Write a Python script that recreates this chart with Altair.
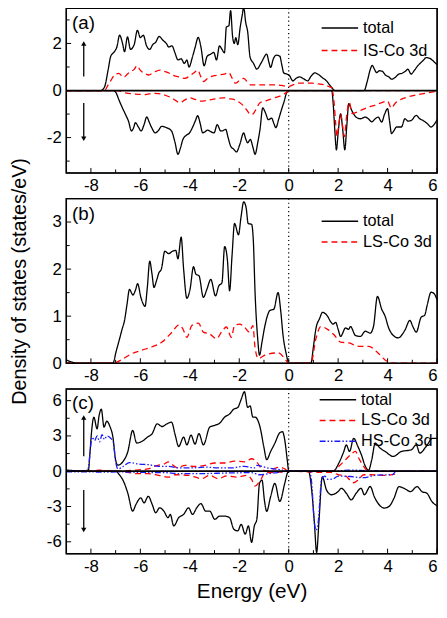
import altair as alt
import pandas as pd

FONT = "Liberation Sans"
W = 376
H = 167

X_MAJOR = [-8, -6, -4, -2, 0, 2, 4, 6]
X_MINOR = [-7, -5, -3, -1, 1, 3, 5]

# ---------------- panel (a) ----------------
A_TOTAL_UP = [(-9,0),(-7.6,0),(-7.45,0.15),(-7.3,0.9),(-7.2,1.45),(-7.05,1.65),(-6.95,1.85),(-6.84,2.35),(-6.72,2.0),(-6.64,1.65),(-6.52,2.28),(-6.4,1.75),(-6.25,1.95),(-6.12,2.56),(-6.0,2.25),(-5.88,2.35),(-5.75,1.9),(-5.62,1.75),(-5.5,1.95),(-5.38,2.05),(-5.24,2.3),(-5.1,2.15),(-4.95,2.0),(-4.85,1.85),(-4.72,1.9),(-4.6,1.6),(-4.48,1.3),(-4.35,1.35),(-4.22,1.15),(-4.12,1.3),(-4.03,1.0),(-3.9,1.4),(-3.78,1.85),(-3.66,2.26),(-3.55,1.85),(-3.42,1.05),(-3.3,1.45),(-3.15,1.55),(-3.03,1.62),(-2.92,1.3),(-2.8,1.9),(-2.7,1.75),(-2.6,1.6),(-2.52,2.7),(-2.42,2.75),(-2.35,3.4),(-2.27,2.3),(-2.2,2.0),(-2.14,2.25),(-2.06,1.95),(-1.96,2.7),(-1.88,3.2),(-1.82,3.54),(-1.74,2.9),(-1.66,2.5),(-1.56,1.41),(-1.42,1.15),(-1.29,0.91),(-1.1,1.2),(-0.89,1.55),(-0.8,1.2),(-0.73,0.98),(-0.62,1.35),(-0.5,1.5),(-0.36,1.46),(-0.28,1.1),(-0.2,0.75),(-0.08,0.7),(0.02,0.65),(0.17,0.41),(0.3,0.52),(0.44,0.58),(0.6,0.5),(0.77,0.41),(0.9,0.6),(1.06,0.75),(1.2,0.68),(1.37,0.54),(1.52,0.42),(1.64,0.26),(1.76,0.1),(1.86,0),(3.05,0),(3.18,0.4),(3.3,0.9),(3.38,1.07),(3.48,0.88),(3.56,0.76),(3.66,0.84),(3.78,0.82),(3.92,0.65),(4.05,0.58),(4.16,0.48),(4.3,0.55),(4.44,0.69),(4.6,0.74),(4.72,0.82),(4.82,0.91),(4.95,0.7),(5.08,0.85),(5.22,1.05),(5.36,1.2),(5.46,1.3),(5.56,1.4),(5.68,1.38),(5.8,1.3),(5.92,1.18),(6.0,1.1)]
A_TOTAL_DN = [(-9,0),(-7.1,0),(-6.98,-0.1),(-6.87,-0.39),(-6.72,-0.75),(-6.6,-1.02),(-6.48,-1.3),(-6.36,-1.72),(-6.28,-1.6),(-6.2,-1.37),(-6.08,-1.55),(-5.97,-1.72),(-5.85,-1.45),(-5.74,-1.12),(-5.64,-1.35),(-5.54,-1.58),(-5.4,-1.8),(-5.27,-1.7),(-5.14,-1.52),(-4.94,-1.58),(-4.74,-1.72),(-4.6,-2.2),(-4.48,-2.71),(-4.38,-2.45),(-4.28,-2.08),(-4.14,-1.9),(-4.01,-1.8),(-3.87,-1.52),(-3.78,-1.3),(-3.68,-1.07),(-3.58,-1.4),(-3.48,-1.8),(-3.38,-1.75),(-3.28,-1.68),(-3.15,-1.75),(-3.02,-1.8),(-2.89,-1.45),(-2.75,-1.72),(-2.65,-1.7),(-2.55,-1.65),(-2.45,-2.0),(-2.35,-2.36),(-2.22,-2.5),(-2.11,-2.61),(-1.98,-2.3),(-1.82,-1.8),(-1.74,-2.05),(-1.66,-2.22),(-1.55,-2.08),(-1.45,-2.4),(-1.36,-2.71),(-1.25,-2.2),(-1.16,-1.65),(-1.05,-0.74),(-0.94,-0.95),(-0.82,-1.24),(-0.69,-1.17),(-0.6,-1.4),(-0.52,-1.58),(-0.4,-1.2),(-0.29,-0.81),(-0.18,-0.45),(-0.09,-0.11),(0,0),(1.74,0),(1.8,-0.56),(1.86,-1.6),(1.93,-2.52),(2.0,-1.8),(2.1,-0.99),(2.18,-1.6),(2.27,-2.52),(2.35,-1.5),(2.43,-0.56),(2.53,-0.8),(2.63,-1.0),(2.75,-1.15),(2.9,-1.2),(3.1,-1.13),(3.22,-1.2),(3.36,-1.33),(3.5,-1.2),(3.62,-1.13),(3.76,-1.34),(3.88,-1.0),(4.0,-0.77),(4.08,-1.3),(4.16,-1.83),(4.26,-1.7),(4.36,-1.55),(4.56,-1.55),(4.7,-1.2),(4.83,-1.3),(4.96,-1.27),(5.16,-1.06),(5.3,-1.2),(5.43,-1.27),(5.6,-1.4),(5.76,-1.55),(5.88,-1.45),(6.0,-1.24)]
A_IS_UP = [(-9,0),(-7.45,0),(-7.3,0.25),(-7.15,0.5),(-7.05,0.66),(-6.87,0.73),(-6.75,0.62),(-6.67,0.56),(-6.52,0.7),(-6.4,0.8),(-6.25,0.9),(-6.13,1.06),(-6.03,0.9),(-5.94,0.8),(-5.8,0.72),(-5.67,0.66),(-5.45,0.78),(-5.2,0.87),(-5.05,0.82),(-4.88,0.76),(-4.68,0.65),(-4.48,0.59),(-4.21,0.52),(-3.95,0.66),(-3.8,0.78),(-3.68,0.87),(-3.56,0.6),(-3.44,0.38),(-3.3,0.5),(-3.15,0.59),(-2.82,0.66),(-2.6,0.7),(-2.42,0.76),(-2.3,0.55),(-2.15,0.31),(-2.0,0.42),(-1.82,0.52),(-1.68,0.38),(-1.55,0.24),(-1.02,0.24),(-0.49,0.24),(-0.2,0.2),(0,0.17),(0.2,0.25),(0.37,0.31),(0.97,0.31),(1.2,0.28),(1.44,0.24),(1.62,0.17),(1.77,0.1),(1.88,0),(6,0)]
A_IS_DN = [(-9,0),(-6.95,0),(-6.6,-0.1),(-6.2,-0.15),(-5.8,-0.17),(-5.5,-0.12),(-5.27,-0.13),(-5.0,-0.2),(-4.74,-0.31),(-4.58,-0.42),(-4.41,-0.52),(-4.2,-0.4),(-4.01,-0.31),(-3.78,-0.38),(-3.55,-0.45),(-3.3,-0.42),(-3.08,-0.38),(-2.85,-0.33),(-2.62,-0.31),(-2.42,-0.35),(-2.22,-0.38),(-2.0,-0.5),(-1.82,-0.66),(-1.68,-0.85),(-1.55,-1.02),(-1.45,-1.0),(-1.36,-0.87),(-1.16,-0.52),(-0.96,-0.45),(-0.76,-0.38),(-0.56,-0.3),(-0.36,-0.24),(-0.15,-0.12),(-0.03,-0.04),(0,0),(1.76,0),(1.84,-0.56),(1.9,-1.4),(1.95,-1.96),(2.02,-1.5),(2.1,-1.0),(2.18,-1.5),(2.25,-1.96),(2.35,-1.0),(2.45,-0.5),(2.57,-0.98),(2.9,-0.85),(3.2,-0.72),(3.5,-0.62),(3.8,-0.5),(4.0,-0.45),(4.15,-0.75),(4.3,-0.55),(4.5,-0.4),(4.8,-0.28),(5.2,-0.18),(5.6,-0.1),(6,-0.03)]

# ---------------- panel (b) ----------------
B_TOTAL = [(-9,0.07),(-8.8,0.03),(-8.57,0),(-7.11,0),(-6.98,0.25),(-6.84,0.52),(-6.74,0.72),(-6.64,0.91),(-6.54,1.25),(-6.44,1.57),(-6.3,1.45),(-6.2,1.55),(-6.11,1.69),(-5.98,1.4),(-5.81,1.21),(-5.72,1.6),(-5.62,2.17),(-5.53,1.9),(-5.45,1.61),(-5.35,1.75),(-5.25,1.92),(-5.15,2.0),(-5.01,2.38),(-4.85,2.33),(-4.7,2.38),(-4.57,2.4),(-4.48,2.22),(-4.35,2.68),(-4.25,2.0),(-4.12,1.38),(-3.99,1.57),(-3.85,2.05),(-3.75,1.89),(-3.63,1.86),(-3.45,1.4),(-3.31,1.57),(-3.15,1.78),(-2.96,1.43),(-2.83,1.64),(-2.7,1.71),(-2.59,2.48),(-2.48,2.2),(-2.39,1.54),(-2.29,2.3),(-2.19,2.97),(-2.03,2.73),(-1.93,3.1),(-1.82,3.43),(-1.72,3.3),(-1.64,2.97),(-1.5,2.95),(-1.43,2.6),(-1.36,1.5),(-1.25,0.5),(-1.18,0.17),(-1.08,0.45),(-0.96,0.8),(-0.76,1.12),(-0.6,1.15),(-0.43,1.5),(-0.32,1.1),(-0.23,0.6),(-0.1,0.2),(0.01,0),(0.9,0),(1.0,0.35),(1.1,0.73),(1.25,0.95),(1.37,1.08),(1.57,1.0),(1.7,0.88),(1.79,0.83),(1.9,0.87),(2.0,0.72),(2.1,0.57),(2.3,0.75),(2.42,0.72),(2.5,0.78),(2.7,0.59),(2.9,0.57),(3.1,0.68),(3.3,0.64),(3.43,0.78),(3.59,1.42),(3.76,1.15),(3.9,1.0),(4.03,0.77),(4.23,0.59),(4.43,0.54),(4.7,0.7),(4.9,0.91),(5.03,0.77),(5.16,0.66),(5.36,0.98),(5.5,1.02),(5.6,1.23),(5.76,1.51),(5.88,1.48),(6.0,1.35)]
B_LS = [(-9,0),(-7.1,0),(-6.78,0.07),(-6.32,0.21),(-5.92,0.28),(-5.52,0.35),(-5.12,0.45),(-4.72,0.66),(-4.45,0.81),(-4.28,0.73),(-4.12,0.55),(-3.92,0.8),(-3.65,0.85),(-3.45,0.66),(-3.19,0.62),(-2.92,0.52),(-2.72,0.66),(-2.52,0.77),(-2.32,0.55),(-2.19,0.8),(-1.99,0.83),(-1.79,0.77),(-1.59,0.66),(-1.45,0.8),(-1.36,0.33),(-1.23,0.1),(-0.96,0.17),(-0.43,0.22),(-0.16,0.1),(0,0),(0.9,0),(1.1,0.52),(1.3,0.78),(1.57,0.72),(1.84,0.6),(2.1,0.45),(2.44,0.43),(2.84,0.36),(3.24,0.36),(3.57,0.24),(3.9,0.07),(4.17,0),(6,0)]

# ---------------- panel (c) ----------------
C_TOTAL_UP = [(-9,0.1),(-8.6,0.05),(-8.25,0.05),(-8.1,0.1),(-8.04,1.5),(-7.98,3.2),(-7.88,4.59),(-7.75,3.6),(-7.67,4.72),(-7.58,5.28),(-7.47,3.75),(-7.36,4.25),(-7.23,3.8),(-7.11,2.9),(-7.0,0.95),(-6.91,0.52),(-6.71,0.8),(-6.51,1.64),(-6.31,3.47),(-6.15,2.4),(-5.91,2.57),(-5.71,2.9),(-5.52,3.2),(-5.32,4.03),(-5.12,3.8),(-4.92,4.03),(-4.74,4.17),(-4.59,3.07),(-4.45,2.1),(-4.25,2.9),(-4.12,2.24),(-3.95,3.07),(-3.79,2.3),(-3.63,3.2),(-3.45,2.24),(-3.19,3.76),(-2.99,3.9),(-2.79,4.09),(-2.59,4.6),(-2.39,4.87),(-2.22,5.28),(-2.06,5.42),(-1.92,6.12),(-1.79,6.76),(-1.66,5.42),(-1.56,5.56),(-1.45,4.6),(-1.36,4.6),(-1.16,3.76),(-1.0,2.0),(-0.89,0.98),(-0.73,1.68),(-0.56,2.38),(-0.36,3.27),(-0.25,3.36),(-0.16,2.66),(-0.05,0.8),(0,0),(1.8,0),(2.03,0.7),(2.23,1.68),(2.33,2.24),(2.46,1.68),(2.63,2.8),(2.8,2.1),(2.94,1.4),(3.1,0.42),(3.23,0.08),(3.36,0.98),(3.5,2.38),(3.7,1.96),(3.9,1.68),(4.23,1.26),(4.56,1.68),(4.96,1.82),(5.16,2.24),(5.3,1.54),(5.56,2.1),(5.82,2.8),(6.0,2.8)]
C_TOTAL_DN = [(-9,0),(-7.0,0),(-6.85,-0.3),(-6.71,-0.73),(-6.51,-1.85),(-6.31,-3.39),(-6.18,-2.83),(-5.98,-2.27),(-5.85,-2.69),(-5.68,-2.13),(-5.52,-2.83),(-5.38,-3.53),(-5.22,-3.11),(-5.05,-3.39),(-4.88,-3.95),(-4.79,-3.67),(-4.65,-4.65),(-4.45,-3.95),(-4.25,-3.67),(-4.05,-3.11),(-3.89,-3.67),(-3.72,-3.11),(-3.55,-2.75),(-3.36,-3.39),(-3.19,-3.39),(-2.99,-4.09),(-2.79,-3.81),(-2.59,-3.81),(-2.39,-3.95),(-2.22,-4.93),(-2.06,-5.07),(-1.92,-4.51),(-1.76,-5.35),(-1.63,-4.65),(-1.5,-6.05),(-1.39,-4.65),(-1.29,-4.11),(-1.18,-1.03),(-1.08,-0.75),(-0.98,-2.5),(-0.89,-3.41),(-0.73,-2.15),(-0.56,-1.03),(-0.36,-2.57),(-0.16,-1.03),(-0.03,-0.05),(0,0),(0.8,0),(0.93,-1.6),(1.04,-4.4),(1.13,-6.9),(1.22,-4.4),(1.36,-0.48),(1.53,-1.6),(1.73,-2.0),(2.0,-1.73),(2.13,-1.45),(2.33,-1.87),(2.53,-2.43),(2.73,-1.87),(2.93,-1.45),(3.06,-2.0),(3.3,-1.3),(3.46,-2.15),(3.66,-2.85),(3.86,-3.13),(4.06,-2.99),(4.26,-2.29),(4.46,-1.31),(4.66,-1.45),(4.93,-1.73),(5.19,-1.31),(5.39,-1.73),(5.59,-1.87),(5.79,-2.57),(6.0,-2.94)]
C_LS_UP = [(-9,0),(-7.9,0),(-7.7,0.1),(-7.4,0.05),(-7.0,0),(-6.5,0.05),(-6.2,0.1),(-5.7,0.2),(-5.3,0.5),(-5.05,0.6),(-4.85,0.8),(-4.7,0.55),(-4.52,0.3),(-4.19,0.5),(-3.79,0.4),(-3.39,0.5),(-2.99,0.7),(-2.59,0.7),(-2.19,0.86),(-1.79,0.8),(-1.49,1.06),(-1.29,0.77),(-1.09,0.2),(-0.89,0),(-0.62,0.2),(-0.36,0.35),(-0.16,0.2),(0,0),(1.8,0),(2.03,0.42),(2.3,0.98),(2.5,1.4),(2.7,1.68),(2.83,1.12),(3.03,0.42),(3.16,0.08),(3.25,0),(6,0)]
C_LS_DN = [(-9,0),(-7.0,0),(-6.5,-0.1),(-6.18,-0.2),(-5.7,-0.2),(-5.25,-0.35),(-4.85,-0.5),(-4.6,-0.3),(-4.05,-0.35),(-3.52,-0.63),(-3.2,-0.35),(-2.85,-0.63),(-2.5,-0.4),(-2.06,-0.5),(-1.7,-0.35),(-1.5,-0.7),(-1.36,-1.26),(-1.16,-0.84),(-0.96,-0.14),(-0.6,-0.1),(-0.2,-0.05),(0,0),(1.33,-0.1),(1.7,-0.1),(2.03,-0.3),(2.3,-0.4),(2.5,-0.8),(2.63,-0.98),(2.83,-0.7),(3.03,-0.3),(3.3,-0.3),(3.8,-0.35),(4.3,-0.25),(4.4,0),(6,0)]
C_HS_UP = [(-9,0.05),(-8.2,0.05),(-8.1,0.3),(-8.04,1.5),(-7.95,2.9),(-7.85,2.6),(-7.75,3.0),(-7.65,2.5),(-7.55,3.1),(-7.45,2.7),(-7.35,3.0),(-7.2,2.8),(-7.1,2.5),(-7.0,0.8),(-6.9,0.2),(-6.7,0.4),(-6.44,0.73),(-6.05,0.6),(-5.65,0.55),(-5.25,0.42),(-4.85,0.42),(-4.45,0.28),(-3.92,0.28),(-3.39,0.35),(-2.85,0.28),(-2.32,0.28),(-1.79,0.42),(-1.39,0.28),(-1.29,0.5),(-0.89,0.3),(-0.36,0.14),(0,0),(1.8,0),(2.5,0.1),(3.2,0.05),(6,0)]
C_HS_DN = [(-9,-0.05),(-8.2,-0.05),(-7.5,-0.08),(-6.84,-0.06),(-6.0,-0.1),(-5.0,-0.12),(-4.45,-0.2),(-3.5,-0.2),(-2.5,-0.15),(-1.5,-0.12),(-1.16,-0.3),(-0.6,-0.15),(0,0),(0.85,0),(0.93,-1.0),(1.03,-4.2),(1.11,-5.0),(1.2,-4.2),(1.33,-0.7),(1.46,-0.42),(1.6,-0.7),(1.8,-0.65),(2.0,-0.42),(2.5,-0.45),(3.0,-0.55),(3.5,-0.35),(4.2,-0.28),(4.35,0),(6,0)]

# spin arrows: (energy, tail, head)
A_ARROWS = [(-8.29, 0.6, 2.0), (-8.29, -0.53, -2.05)]
C_ARROWS = [(-8.29, 1.28, 4.56), (-8.29, -1.6, -5.0)]

BLACK = "black"
RED = "#ff0000"
BLUE = "#1a1aff"
SOLID = [1, 0]
DASH = [6, 4]
DASHDOT = [6, 2, 1.5, 2, 1.5, 2]


def curve_df(pts, series, cid):
    return pd.DataFrame({
        "E": [p[0] for p in pts],
        "v": [p[1] for p in pts],
        "series": series,
        "cid": cid,
        "i": list(range(len(pts))),
    })


def panel(label, label_y, ydom, ymajor, yminor, series, colors, dashes,
          curves, legend_x, legend_y, row_pad, zero_line, arrows,
          x_title=None, y_title=None):
    xscale = alt.Scale(domain=[-9, 6], nice=False, zero=False)
    yscale = alt.Scale(domain=ydom, nice=False, zero=False)
    xkw = dict(values=X_MAJOR, ticks=False, domain=False, grid=False,
               labelPadding=5, labelFontSize=17, labelFont=FONT,
               labelColor="black", labelExpr="'' + datum.value",
               title=x_title)
    if x_title:
        xkw.update(titleFont=FONT, titleFontSize=21, titleFontWeight="normal",
                   titleColor="black", titlePadding=7)
    ykw = dict(values=ymajor, ticks=False, domain=False, grid=False,
               labelPadding=5, labelFontSize=17, labelFont=FONT,
               labelColor="black", labelExpr="'' + datum.value",
               title=y_title)
    if y_title:
        ykw.update(titleFont=FONT, titleFontSize=20, titleFontWeight="normal",
                   titleColor="black", titlePadding=23)
    legend = alt.Legend(title=None, orient="none", legendX=legend_x,
                        legendY=legend_y, symbolType="stroke",
                        symbolSize=1369, symbolStrokeWidth=1.5,
                        clipHeight=16, rowPadding=row_pad,
                        labelFontSize=16.5, labelFont=FONT,
                        labelColor="black", labelOffset=4, padding=0,
                        labelLimit=300)
    cscale = alt.Scale(domain=series, range=colors)
    dscale = alt.Scale(domain=series, range=dashes)

    layers = []
    # tick marks drawn inside the frame
    layers.append(alt.Chart(pd.DataFrame({"E": X_MAJOR})).mark_rule(
        color="black", strokeWidth=1).encode(
        x=alt.X("E:Q", scale=xscale, axis=alt.Axis(**xkw)),
        y=alt.value(H), y2=alt.value(H - 5)))
    layers.append(alt.Chart(pd.DataFrame({"E": X_MINOR})).mark_rule(
        color="black", strokeWidth=1).encode(
        x=alt.X("E:Q"), y=alt.value(H), y2=alt.value(H - 3.5)))
    layers.append(alt.Chart(pd.DataFrame({"v": ymajor})).mark_rule(
        color="black", strokeWidth=1).encode(
        y=alt.Y("v:Q", scale=yscale, axis=alt.Axis(**ykw)),
        x=alt.value(0), x2=alt.value(5)))
    layers.append(alt.Chart(pd.DataFrame({"v": yminor})).mark_rule(
        color="black", strokeWidth=1).encode(
        y=alt.Y("v:Q"), x=alt.value(0), x2=alt.value(3.5)))
    # Fermi level
    layers.append(alt.Chart(pd.DataFrame({"E": [0]})).mark_rule(
        color="black", strokeWidth=1.2, strokeDash=[1.2, 3]).encode(
        x=alt.X("E:Q")))
    # curves
    for name, cid, pts in curves:
        layers.append(alt.Chart(curve_df(pts, name, cid)).mark_line(
            strokeWidth=1.3, clip=True, interpolate="monotone").encode(
            x=alt.X("E:Q"), y=alt.Y("v:Q"),
            color=alt.Color("series:N", scale=cscale, legend=legend),
            strokeDash=alt.StrokeDash("series:N", scale=dscale, legend=legend),
            detail="cid:N", order="i:Q"))
    if zero_line:
        layers.append(alt.Chart(pd.DataFrame({"v": [0]})).mark_rule(
            color="black", strokeWidth=1.8).encode(y=alt.Y("v:Q")))
    # arrows
    if arrows:
        adf = pd.DataFrame({"E": [a[0] for a in arrows],
                            "v": [a[1] for a in arrows],
                            "v2": [a[2] for a in arrows]})
        layers.append(alt.Chart(adf).mark_rule(color="black", strokeWidth=1.3).encode(
            x=alt.X("E:Q"), y=alt.Y("v:Q"), y2="v2:Q"))
        up = pd.DataFrame({"E": [a[0] for a in arrows if a[2] > 0],
                           "v": [a[2] for a in arrows if a[2] > 0]})
        dn = pd.DataFrame({"E": [a[0] for a in arrows if a[2] < 0],
                           "v": [a[2] for a in arrows if a[2] < 0]})
        layers.append(alt.Chart(up).mark_point(shape="triangle-up", filled=True,
                                               size=28, color="black", opacity=1).encode(
            x=alt.X("E:Q"), y=alt.Y("v:Q")))
        layers.append(alt.Chart(dn).mark_point(shape="triangle-down", filled=True,
                                               size=28, color="black", opacity=1).encode(
            x=alt.X("E:Q"), y=alt.Y("v:Q")))
    # panel label
    layers.append(alt.Chart(pd.DataFrame({"E": [-8.76], "v": [label_y], "t": [label]})).mark_text(
        align="left", baseline="middle", fontSize=19, font=FONT, color="black").encode(
        x=alt.X("E:Q"), y=alt.Y("v:Q"), text="t:N"))
    # frame around the plot area
    layers.append(alt.Chart(pd.DataFrame({"k": [0]})).mark_rect(
        fill=None, fillOpacity=0, stroke="black", strokeWidth=1.3).encode(
        x=alt.value(0), x2=alt.value(W), y=alt.value(0), y2=alt.value(H)))

    return alt.layer(*layers).properties(width=W, height=H)


pa = panel("(a)", 2.85, [-3.5, 3.5], [-2, 0, 2], [-3, -1, 1, 3],
           ["total", "IS-Co 3d"], [BLACK, RED], [SOLID, DASH],
           [("total", "t_up", A_TOTAL_UP), ("total", "t_dn", A_TOTAL_DN),
            ("IS-Co 3d", "is_up", A_IS_UP), ("IS-Co 3d", "is_dn", A_IS_DN)],
           258, 12, 6, True, A_ARROWS)

pb = panel("(b)", 3.17, [0, 3.5], [0, 1, 2, 3], [0.5, 1.5, 2.5],
           ["total", "LS-Co 3d"], [BLACK, RED], [SOLID, DASH],
           [("total", "t", B_TOTAL), ("LS-Co 3d", "ls", B_LS)],
           258, 15, 4, False, None,
           y_title="Density of states (states/eV)")

pc = panel("(c)", 5.75, [-7, 7], [-6, -3, 0, 3, 6], [-4.5, -1.5, 1.5, 4.5],
           ["total", "LS-Co 3d", "HS-Co 3d"], [BLACK, RED, BLUE],
           [SOLID, DASH, DASHDOT],
           [("total", "t_up", C_TOTAL_UP), ("total", "t_dn", C_TOTAL_DN),
            ("LS-Co 3d", "ls_up", C_LS_UP), ("LS-Co 3d", "ls_dn", C_LS_DN),
            ("HS-Co 3d", "hs_up", C_HS_UP), ("HS-Co 3d", "hs_dn", C_HS_DN)],
           256, 3, 4, True, C_ARROWS,
           x_title="Energy (eV)")

chart = alt.vconcat(pa, pb, pc, spacing=26, bounds="flush").resolve_scale(
    x="independent", y="independent", color="independent",
    strokeDash="independent").configure_view(
    stroke="black", strokeWidth=1.3).properties(
    padding={"left": 0, "top": -6, "right": 0, "bottom": 0},
    background="white")

chart.save("out.html", embed_options={"renderer": "svg", "actions": False})
